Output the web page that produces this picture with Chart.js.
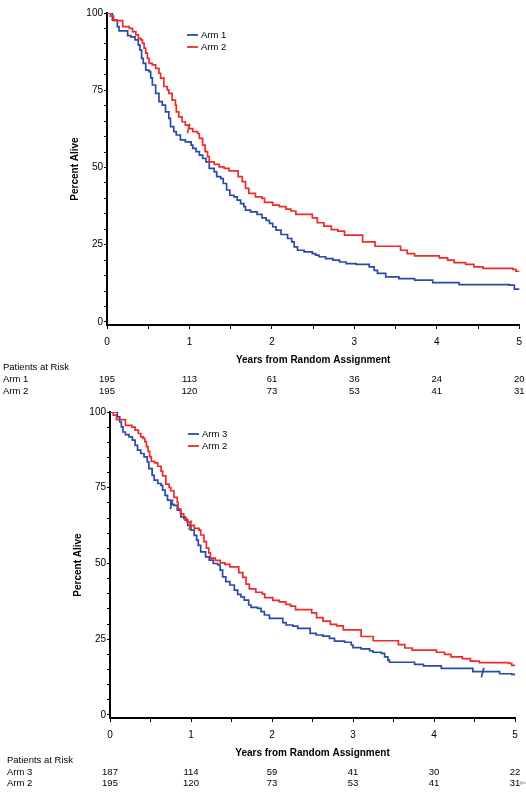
<!DOCTYPE html>
<html><head><meta charset="utf-8">
<script src="https://cdn.jsdelivr.net/npm/chart.js@4.4.1/dist/chart.umd.min.js"></script>
<style>
html,body{margin:0;padding:0;background:#fff;}
#wrap{position:relative;width:526px;height:793px;overflow:hidden;}
.box{position:absolute;left:0;width:526px;}
</style></head><body>
<div id="wrap">
<div class="box" style="top:0;height:400px"><canvas id="c1"></canvas></div>
<div class="box" style="top:400px;height:393px"><canvas id="c2"></canvas></div>
</div>
<script>
// ---- data ----
const arm1Time = [0,0.065,0.125,0.146,0.25,0.29,0.34,0.38,0.40,0.42,0.44,0.47,0.51,0.53,0.55,0.59,0.63,0.67,0.71,0.75,0.77,0.81,0.84,0.89,0.95,1.02,1.04,1.08,1.12,1.16,1.20,1.24,1.30,1.33,1.38,1.41,1.45,1.49,1.54,1.58,1.62,1.66,1.68,1.74,1.82,1.88,1.93,1.97,2.01,2.05,2.11,2.19,2.24,2.27,2.31,2.39,2.49,2.53,2.57,2.65,2.74,2.82,2.90,3.02,3.18,3.24,3.28,3.38,3.54,3.73,3.95,4.27,4.88,4.94,5.0];
const arm1Surv = [100,97.7,95.6,94.2,92.7,92.3,91.3,89.6,88.0,85.3,83.7,81.5,81.0,79.0,76.7,74.0,71.3,70.2,68.0,65.9,63.2,61.6,60.5,58.9,58.3,57.2,56.2,55.1,54.0,52.9,51.8,49.7,48.6,47.0,46.4,44.8,42.7,41.0,40.5,39.4,38.3,37.3,36.2,35.6,34.8,33.7,32.9,31.9,30.8,29.7,28.3,27.0,25.9,24.3,23.2,22.7,22.1,21.6,21.1,20.5,20.0,19.4,18.9,18.6,17.8,16.7,15.7,14.6,14.0,13.5,12.7,12.1,11.9,10.6,10.3];

const arm2Time = [0,0.04,0.08,0.19,0.27,0.31,0.35,0.38,0.41,0.43,0.45,0.47,0.49,0.51,0.55,0.59,0.63,0.65,0.69,0.73,0.75,0.79,0.83,0.84,0.87,0.91,0.95,0.99,1.04,1.10,1.12,1.16,1.19,1.22,1.24,1.30,1.36,1.42,1.48,1.59,1.64,1.68,1.72,1.80,1.88,1.91,2.01,2.09,2.17,2.23,2.29,2.49,2.55,2.63,2.72,2.80,2.88,3.10,3.25,3.56,3.64,3.73,4.03,4.13,4.21,4.35,4.45,4.56,4.92,4.96,5.0];
const arm2Surv = [100,99.0,97.5,95.6,95.0,94.0,92.9,91.8,91.3,90.2,88.6,87.0,85.3,83.7,83.2,82.1,80.5,78.9,76.2,75.1,74.0,71.8,70.2,68.0,66.4,64.8,63.7,62.6,61.6,61.0,59.4,57.2,55.1,53.5,51.8,51.0,50.2,49.7,48.9,47.0,45.4,43.2,41.6,40.5,40.0,38.7,37.8,37.3,36.5,35.9,34.8,33.7,32.1,31.0,29.9,29.4,28.1,25.9,24.5,23.2,22.1,21.4,20.7,20.0,19.2,18.6,17.8,17.3,17.0,16.4,16.2];

const arm3Time = [0,0.09,0.12,0.14,0.16,0.19,0.235,0.276,0.31,0.34,0.38,0.42,0.46,0.48,0.52,0.545,0.59,0.63,0.65,0.68,0.71,0.75,0.79,0.83,0.875,0.93,0.96,1.0,1.04,1.07,1.09,1.12,1.18,1.225,1.275,1.33,1.36,1.39,1.43,1.48,1.535,1.576,1.617,1.658,1.712,1.741,1.823,1.865,1.906,1.968,2.133,2.174,2.257,2.318,2.471,2.545,2.628,2.71,2.772,2.896,2.979,3.0,3.10,3.205,3.247,3.35,3.39,3.43,3.45,3.76,3.87,4.09,4.48,4.81,4.96,5.0];
const arm3Surv = [100,98.4,96.7,95.1,93.4,92.5,91.8,90.7,89.0,87.4,86.3,85.2,83.5,81.3,79.1,77.5,76.4,75.8,74.2,72.5,70.9,69.5,69.2,67.6,65.4,64.3,62.6,61.0,59.3,57.7,56.0,53.8,52.2,51.1,50.0,49.5,47.8,45.6,44.0,42.9,41.2,39.8,39.0,37.9,36.3,35.5,35.2,34.1,33.0,31.9,30.5,29.7,29.3,28.6,26.9,26.4,26.0,25.3,24.4,24.0,23.1,22.2,21.8,21.2,20.7,20.3,19.2,18.1,17.4,16.7,16.2,15.4,14.3,13.6,13.4,13.0];

// censored observations (time, percent)
const censorArm2Time = [0.99];
const censorArm2Surv = [62.6];
const censorArm3Time = [0.76, 4.60];
const censorArm3Surv = [69.5, 14.0];

// patients at risk
const riskYears = [0,1,2,3,4,5];
const riskArm1 = [195,113,61,36,24,20];
const riskArm2 = [195,120,73,53,41,31];
const riskArm3 = [187,114,59,41,30,22];

// tick labels
const xTickValues = [0,0.5,1,1.5,2,2.5,3,3.5,4,4.5,5];
const xTickLabels = ['0','','1','','2','','3','','4','','5'];
const yTickValues = [0,5,10,15,20,25,30,35,40,45,50,55,60,65,70,75,80,85,90,95,100];
const yLabelled = [0,25,50,75,100];

// ---- styling ----
const FONT = '"Liberation Sans", Arial, Helvetica, sans-serif';
const BLUE = '#2a4aa9';
const RED = '#ee2b2b';

function pts(t, s) { return t.map((v, i) => ({x: v, y: s[i]})); }

const overlayPlugin = {
  id: 'overlay',
  afterDraw(chart, args, o) {
    const {ctx, chartArea: a} = chart;
    const x = chart.scales.x;
    ctx.save();
    ctx.textBaseline = 'middle';
    // legend
    ctx.font = '9.5px ' + FONT;
    o.legend.forEach((item, i) => {
      const y = a.top + o.legendDy + i * 12;
      const x0 = a.left + o.legendDx;
      ctx.strokeStyle = item.color; ctx.lineWidth = 1.8;
      ctx.beginPath(); ctx.moveTo(x0, y); ctx.lineTo(x0 + 11, y); ctx.stroke();
      ctx.fillStyle = '#000'; ctx.textAlign = 'left';
      ctx.fillText(item.label, x0 + 14, y + 0.5);
    });
    // risk table
    ctx.font = '9.5px ' + FONT;
    ctx.fillStyle = '#000';
    ctx.textAlign = 'left';
    ctx.fillText('Patients at Risk', o.tableLeft, a.bottom + 42);
    o.rows.forEach((row, r) => {
      const y = a.bottom + 54 + r * o.rowGap;
      ctx.textAlign = 'left';
      ctx.fillText(row.label, o.tableLeft, y);
      ctx.textAlign = 'center';
      row.values.forEach((v, i) => {
        ctx.fillText(String(v), x.getPixelForValue(riskYears[i]), y);
      });
    });
    if (o.arrow) {
      const y = a.bottom + 54 + (o.rows.length - 1) * o.rowGap;
      ctx.fillStyle = '#a0a0a0';
      ctx.textAlign = 'left';
      ctx.font = '10px "DejaVu Sans", sans-serif';
      ctx.fillText('\u21D0', x.getPixelForValue(5) + 4, y);
    }
    ctx.restore();
  }
};

function makeChart(id, curves, censors, opts) {
  const datasets = [];
  curves.forEach(c => datasets.push({
    data: pts(c.t, c.s), borderColor: c.color, borderWidth: 1.7,
    stepped: true, pointRadius: 0, fill: false, tension: 0, order: c.order
  }));
  censors.forEach(c => datasets.push({
    data: pts(c.t, c.s), showLine: false, pointStyle: 'line', pointRadius: 5,
    pointRotation: 105, pointBorderColor: c.color, pointBorderWidth: 1.7,
    borderColor: c.color, order: 0
  }));
  return new Chart(document.getElementById(id), {
    type: 'line',
    data: {datasets},
    options: {
      responsive: true, maintainAspectRatio: false, animation: false,
      events: [],
      layout: {padding: opts.padding},
      plugins: {
        legend: {display: false}, tooltip: {enabled: false},
        overlay: opts.overlay
      },
      scales: {
        x: {
          type: 'linear', min: 0, max: 5,
          afterBuildTicks: s => { s.ticks = xTickValues.map(v => ({value: v})); },
          ticks: {
            callback: (v, i) => xTickLabels[i], color: '#000', padding: 7,
            font: {size: 10, family: FONT}, maxRotation: 0, autoSkip: false
          },
          grid: {drawOnChartArea: false, drawTicks: true, tickLength: 4, tickColor: '#000', tickWidth: 1},
          border: {display: true, color: '#000', width: 2},
          title: {display: true, text: 'Years from Random Assignment', color: '#000',
                  font: {size: 10, weight: 'bold', family: FONT}, padding: {top: 0, bottom: 0}},
          afterFit: s => { s.height = 41; s.paddingLeft = 0; s.paddingRight = 0; }
        },
        y: {
          type: 'linear', min: -1, max: 100,
          afterBuildTicks: s => { s.ticks = yTickValues.map(v => ({value: v})); },
          ticks: {
            callback: v => (yLabelled.includes(v) ? String(v) : ''), color: '#000', padding: 1,
            font: {size: 10, family: FONT}, autoSkip: false
          },
          grid: {drawOnChartArea: false, drawTicks: true, tickLength: 3, tickColor: '#000', tickWidth: 1},
          border: {display: true, color: '#000', width: 2},
          title: {display: true, text: 'Percent Alive', color: '#000',
                  font: {size: 10, weight: 'bold', family: FONT}, padding: {top: 69, bottom: 0}},
          afterFit: s => { s.width = 107; s.paddingTop = 0; s.paddingBottom = 0; }
        }
      }
    },
    plugins: [overlayPlugin]
  });
}

makeChart('c1',
  [{t: arm1Time, s: arm1Surv, color: BLUE, order: 2},
   {t: arm2Time, s: arm2Surv, color: RED, order: 1}],
  [{t: censorArm2Time, s: censorArm2Surv, color: RED}],
  {
    padding: {left: 0, right: 6, top: 13, bottom: 34},
    overlay: {
      legend: [{label: 'Arm 1', color: BLUE}, {label: 'Arm 2', color: RED}],
      legendDx: 80, legendDy: 22, tableLeft: 3, rowGap: 12,
      rows: [{label: 'Arm 1', values: riskArm1}, {label: 'Arm 2', values: riskArm2}],
      arrow: false
    }
  });

makeChart('c2',
  [{t: arm3Time, s: arm3Surv, color: BLUE, order: 2},
   {t: arm2Time, s: arm2Surv, color: RED, order: 1}],
  [{t: censorArm3Time, s: censorArm3Surv, color: BLUE},
   {t: censorArm2Time, s: censorArm2Surv, color: RED}],
  {
    padding: {left: 3, right: 11, top: 12, bottom: 34},
    overlay: {
      legend: [{label: 'Arm 3', color: BLUE}, {label: 'Arm 2', color: RED}],
      legendDx: 78, legendDy: 22, tableLeft: 7, rowGap: 11,
      rows: [{label: 'Arm 3', values: riskArm3}, {label: 'Arm 2', values: riskArm2}],
      arrow: true
    }
  });
</script>
</body></html>
